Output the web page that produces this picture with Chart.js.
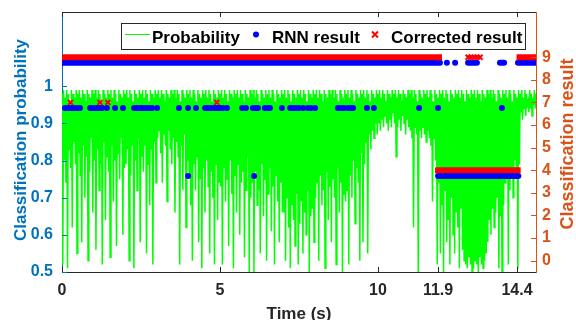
<!DOCTYPE html>
<html>
<head>
<meta charset="utf-8">
<script src="https://cdn.jsdelivr.net/npm/chart.js@4.4.1/dist/chart.umd.min.js"></script>
<style>
  html, body { margin: 0; padding: 0; background: #fff; overflow: hidden; }
</style>
</head>
<body>
<canvas id="resultChart" width="576" height="320"></canvas>
<script>
// tick labels
const xTicks = [0, 5, 10, 11.9, 14.4];
const probTicks = [0.5, 0.6, 0.7, 0.8, 0.9, 1];
const classTicks = [0, 1, 2, 3, 4, 5, 6, 7, 8, 9];

// probability, one value every 0.025 s starting at 0 s (one row = 1 s)
const probStep = 0.025;
const probValues = [
  0.98,0.52,0.99,0.80,0.97,0.74,0.99,0.51,0.98,0.83,0.96,0.78,0.99,0.62,0.98,0.85,0.97,0.79,0.99,0.55,0.98,0.82,0.99,0.76,0.97,0.58,0.99,0.84,0.98,0.70,0.96,0.81,0.99,0.53,0.98,0.77,0.97,0.86,0.99,0.66,
  0.98,0.80,0.99,0.56,0.97,0.83,0.99,0.72,0.98,0.79,0.96,0.52,0.99,0.85,0.98,0.64,0.97,0.81,0.99,0.77,0.98,0.54,0.99,0.84,0.97,0.69,0.99,0.80,0.98,0.57,0.96,0.82,0.99,0.75,0.98,0.86,0.97,0.60,0.99,0.78,
  0.98,0.79,0.99,0.83,0.97,0.53,0.99,0.76,0.98,0.84,0.96,0.51,0.99,0.80,0.98,0.72,0.97,0.86,0.99,0.58,0.98,0.81,0.99,0.77,0.97,0.84,0.99,0.55,0.98,0.79,0.96,0.68,0.99,0.83,0.98,0.52,0.97,0.85,0.99,0.74,
  0.98,0.86,0.99,0.88,0.97,0.82,0.99,0.74,0.98,0.87,0.96,0.84,0.99,0.69,0.98,0.88,0.97,0.83,0.99,0.79,0.98,0.86,0.99,0.66,0.97,0.85,0.99,0.81,0.98,0.52,0.96,0.84,0.99,0.72,0.98,0.87,0.97,0.62,0.99,0.80,
  0.98,0.76,0.99,0.68,0.97,0.53,0.99,0.79,0.98,0.72,0.96,0.81,0.99,0.58,0.98,0.75,0.97,0.51,0.99,0.78,0.98,0.66,0.99,0.80,0.97,0.73,0.99,0.55,0.98,0.77,0.96,0.70,0.99,0.52,0.98,0.79,0.97,0.64,0.99,0.74,
  0.98,0.73,0.99,0.52,0.97,0.78,0.99,0.69,0.98,0.75,0.96,0.57,0.99,0.80,0.98,0.71,0.97,0.51,0.99,0.76,0.98,0.66,0.99,0.79,0.97,0.60,0.99,0.74,0.98,0.77,0.96,0.54,0.99,0.72,0.98,0.81,0.97,0.50,0.99,0.70,
  0.98,0.74,0.99,0.50,0.97,0.77,0.99,0.68,0.98,0.72,0.96,0.55,0.99,0.79,0.98,0.65,0.97,0.75,0.99,0.53,0.98,0.71,0.99,0.78,0.97,0.61,0.99,0.73,0.98,0.52,0.96,0.76,0.99,0.69,0.98,0.58,0.97,0.74,0.99,0.66,
  0.98,0.66,0.99,0.53,0.97,0.70,0.99,0.62,0.98,0.51,0.96,0.68,0.99,0.64,0.98,0.57,0.97,0.71,0.99,0.52,0.98,0.63,0.99,0.69,0.97,0.55,0.99,0.66,0.98,0.60,0.96,0.72,0.99,0.50,0.98,0.65,0.97,0.67,0.99,0.58,
  0.98,0.70,0.99,0.74,0.97,0.53,0.99,0.76,0.98,0.68,0.96,0.72,0.99,0.51,0.98,0.77,0.97,0.64,0.99,0.73,0.98,0.58,0.99,0.75,0.97,0.70,0.99,0.52,0.98,0.78,0.96,0.66,0.99,0.74,0.98,0.50,0.97,0.71,0.99,0.69,
  0.98,0.72,0.99,0.52,0.97,0.76,0.99,0.70,0.98,0.80,0.96,0.63,0.99,0.78,0.98,0.74,0.97,0.53,0.99,0.82,0.98,0.58,0.99,0.79,0.97,0.85,0.99,0.55,0.98,0.87,0.96,0.83,0.99,0.88,0.98,0.86,0.97,0.90,0.99,0.87,
  0.98,0.90,0.99,0.88,0.97,0.91,0.99,0.89,0.98,0.92,0.96,0.90,0.99,0.88,0.98,0.91,0.97,0.89,0.99,0.93,0.98,0.90,0.99,0.81,0.97,0.89,0.99,0.91,0.98,0.88,0.96,0.92,0.99,0.90,0.98,0.87,0.97,0.91,0.99,0.89,
  0.98,0.88,0.99,0.86,0.97,0.62,0.99,0.89,0.98,0.87,0.96,0.50,0.99,0.88,0.98,0.86,0.97,0.89,0.99,0.87,0.98,0.85,0.99,0.88,0.97,0.86,0.99,0.84,0.98,0.69,0.96,0.86,0.99,0.80,0.98,0.52,0.97,0.74,0.99,0.55,
  0.98,0.68,0.99,0.50,0.97,0.72,0.99,0.58,0.98,0.64,0.96,0.52,0.99,0.70,0.98,0.60,0.97,0.55,0.99,0.66,0.98,0.62,0.99,0.51,0.97,0.67,0.99,0.56,0.98,0.53,0.96,0.52,0.99,0.51,0.98,0.54,0.97,0.52,0.99,0.50,
  0.98,0.51,0.99,0.53,0.97,0.52,0.99,0.50,0.98,0.54,0.96,0.52,0.99,0.51,0.98,0.53,0.97,0.55,0.99,0.58,0.98,0.64,0.99,0.60,0.97,0.67,0.99,0.62,0.98,0.66,0.96,0.70,0.99,0.51,0.98,0.65,0.97,0.50,0.99,0.68,
  0.98,0.74,0.99,0.77,0.97,0.52,0.99,0.72,0.98,0.78,0.96,0.70,0.99,0.80,0.98,0.76,0.97,0.51,0.99,0.79,0.98,0.93,0.99,0.91,0.97,0.94,0.99,0.92,0.98,0.95,0.96,0.93,0.99,0.94,0.98,0.92,0.97,0.95,0.99,0.94,
  0.98
];

// RNN result: runs of one class [from s, to s, class]
const rnnRuns = [[0, 11.96, 9], [12.85, 13.13, 9], [13.86, 13.99, 9], [14.43, 15, 9], [11.9, 14.44, 4]];
// RNN result: single outputs
const rnnTimes = [
  0.09,0.19,0.28,0.38,0.47,0.57, 0.89,0.98,1.08,1.17,1.27, 1.42,1.68,1.93,
  2.28,2.37,2.47,2.56,2.66,2.75,2.85,3.01, 3.70,3.99,4.24,
  4.53,4.62,4.72,4.81,4.91,5.00,5.09,5.22, 5.70,5.82,6.04,6.14,6.20,6.42,6.52,6.58,
  6.96,7.22,7.31,7.41,7.50,7.63,7.78,7.88,8.01, 8.73,8.83,8.92,9.05,9.15,9.21,
  9.65,9.87, 11.30,11.90,13.92,
  3.99,6.08, 12.18,12.44
];
const rnnClasses = [
  7,7,7,7,7,7, 7,7,7,7,7, 7,7,7,
  7,7,7,7,7,7,7,7, 7,7,7,
  7,7,7,7,7,7,7,7, 7,7,7,7,7,7,7,7,
  7,7,7,7,7,7,7,7,7, 7,7,7,7,7,7,
  7,7, 7,7,7,
  4,4, 9,9
];
// RNN markers sit a quarter class lower so both results stay visible
const rnnShift = -0.25;

// corrected result
const corrRuns = [[0, 11.93, 9], [14.48, 15, 9], [11.9, 14.42, 4]];
const corrTimes = [0.27, 1.20, 1.45, 4.90, 12.85, 12.94, 13.04, 13.13, 13.23];
const corrClasses = [7, 7, 7, 7, 9, 9, 9, 9, 9];

const FONT = "'Liberation Sans', Arial, sans-serif";
const BLUE_AX = '#0072BD';
const ORANGE_AX = '#D95319';

function runsToLine(runs, shift) {
  const pts = [];
  runs.forEach(r => {
    pts.push({ x: r[0], y: r[2] + shift }, { x: r[1], y: r[2] + shift }, { x: r[1], y: null });
  });
  return pts;
}

const probPoints = probValues.map((p, i) => ({ x: i * probStep, y: p }));
const rnnPoints = rnnTimes.map((t, i) => ({ x: t, y: rnnClasses[i] + rnnShift }));
const corrPoints = corrTimes.map((t, i) => ({ x: t, y: corrClasses[i] }));

// box top, inward ticks, axis titles and legend (MATLAB look)
const matlabFrame = {
  id: 'matlabFrame',
  afterDatasetsDraw(chart) {
    const { ctx, chartArea: a, scales } = chart;
    ctx.save();
    ctx.lineWidth = 1;
    ctx.strokeStyle = '#262626';
    ctx.beginPath();
    ctx.moveTo(a.left, a.top + 0.5);
    ctx.lineTo(a.right, a.top + 0.5);
    xTicks.forEach(v => {
      const px = Math.round(scales.x.getPixelForValue(v)) + 0.5;
      ctx.moveTo(px, a.bottom);
      ctx.lineTo(px, a.bottom - 5);
      ctx.moveTo(px, a.top);
      ctx.lineTo(px, a.top + 5);
    });
    ctx.stroke();

    ctx.strokeStyle = BLUE_AX;
    ctx.beginPath();
    probTicks.forEach(v => {
      const py = Math.round(scales.y.getPixelForValue(v)) + 0.5;
      ctx.moveTo(a.left, py);
      ctx.lineTo(a.left + 5, py);
    });
    ctx.stroke();

    ctx.strokeStyle = ORANGE_AX;
    ctx.beginPath();
    classTicks.forEach(v => {
      const py = Math.round(scales.y2.getPixelForValue(v)) + 0.5;
      ctx.moveTo(a.right, py);
      ctx.lineTo(a.right - 5, py);
    });
    ctx.stroke();
    ctx.restore();
  },
  afterDraw(chart) {
    const { ctx, chartArea: a } = chart;
    const ds = chart.data.datasets;
    const midY = (a.top + a.bottom) / 2;
    ctx.save();

    // axis titles
    ctx.font = 'bold 17px ' + FONT;
    ctx.textAlign = 'center';
    ctx.textBaseline = 'alphabetic';
    ctx.fillStyle = BLUE_AX;
    ctx.save();
    ctx.translate(25.5, midY - 2);
    ctx.rotate(-Math.PI / 2);
    ctx.fillText('Classification probability', 0, 0);
    ctx.restore();

    ctx.fillStyle = ORANGE_AX;
    ctx.font = 'bold 18px ' + FONT;
    ctx.save();
    ctx.translate(573, midY + 2);
    ctx.rotate(-Math.PI / 2);
    ctx.fillText('Classification result', 0, 0);
    ctx.restore();

    ctx.fillStyle = '#262626';
    ctx.font = 'bold 17px ' + FONT;
    ctx.fillText('Time (s)', (a.left + a.right) / 2, 319);

    // legend
    ctx.fillStyle = '#fff';
    ctx.fillRect(121, 23, 405, 26);
    ctx.strokeStyle = '#262626';
    ctx.lineWidth = 1;
    ctx.strokeRect(121.5, 23.5, 404, 26);

    ctx.strokeStyle = '#00FF00';
    ctx.beginPath();
    ctx.moveTo(125, 34.5);
    ctx.lineTo(150, 34.5);
    ctx.stroke();

    ctx.fillStyle = '#0000FF';
    ctx.beginPath();
    ctx.arc(256, 34.5, 3, 0, Math.PI * 2);
    ctx.fill();

    ctx.strokeStyle = '#FF0000';
    ctx.lineWidth = 2;
    ctx.beginPath();
    ctx.moveTo(372, 31.5);
    ctx.lineTo(378, 37.5);
    ctx.moveTo(378, 31.5);
    ctx.lineTo(372, 37.5);
    ctx.stroke();

    ctx.fillStyle = '#000';
    ctx.textAlign = 'left';
    ctx.fillText(ds[0].label, 152, 42.5);
    ctx.fillText(ds[1].label, 272, 42.5);
    ctx.fillText(ds[2].label, 391, 42.5);
    ctx.restore();
  }
};

const tickFont = { family: FONT, size: 16, weight: 'bold' };

const ctx = document.getElementById('resultChart').getContext('2d');
const resultChart = new Chart(ctx, {
  type: 'line',
  data: {
    datasets: [
      {
        label: 'Probability',
        data: probPoints,
        yAxisID: 'y',
        borderColor: '#00FF00',
        borderWidth: 1.5,
        pointRadius: 0,
        tension: 0,
        order: 4
      },
      {
        label: 'RNN result',
        type: 'scatter',
        data: rnnPoints,
        yAxisID: 'y2',
        backgroundColor: '#0000FF',
        borderWidth: 0,
        pointRadius: 3,
        order: 2
      },
      {
        label: 'Corrected result',
        type: 'scatter',
        data: corrPoints,
        yAxisID: 'y2',
        pointStyle: 'crossRot',
        borderColor: '#FF0000',
        borderWidth: 2,
        pointRadius: 3.5,
        order: 1
      },
      {
        label: 'RNN runs',
        data: runsToLine(rnnRuns, rnnShift),
        yAxisID: 'y2',
        borderColor: '#0000FF',
        borderWidth: 6,
        borderCapStyle: 'round',
        pointRadius: 0,
        spanGaps: false,
        clip: 0,
        order: 3
      },
      {
        label: 'Corrected runs',
        data: runsToLine(corrRuns, 0),
        yAxisID: 'y2',
        borderColor: '#FF0000',
        borderWidth: 6,
        borderCapStyle: 'square',
        pointRadius: 0,
        spanGaps: false,
        clip: 0,
        order: 1
      }
    ]
  },
  options: {
    responsive: false,
    animation: false,
    events: [],
    layout: { padding: { top: 12, left: 0, right: 0, bottom: 0 }, autoPadding: false },
    plugins: { legend: { display: false }, tooltip: { enabled: false } },
    scales: {
      x: {
        type: 'linear',
        position: 'bottom',
        min: 0,
        max: 15,
        afterBuildTicks: s => { s.ticks = xTicks.map(v => ({ value: v })); },
        afterFit: s => { s.height = 48; s.paddingLeft = 0; s.paddingRight = 0; },
        grid: { display: false, drawTicks: false },
        border: { color: '#262626', width: 1 },
        ticks: { color: '#262626', font: tickFont, padding: 9, autoSkip: false, maxRotation: 0, callback: v => String(v) }
      },
      y: {
        type: 'linear',
        position: 'left',
        min: 0.5,
        max: 1.2,
        afterBuildTicks: s => { s.ticks = probTicks.map(v => ({ value: v })); },
        afterFit: s => { s.width = 62; s.paddingTop = 0; s.paddingBottom = 0; },
        grid: { display: false, drawTicks: false },
        border: { color: BLUE_AX, width: 1 },
        ticks: { color: BLUE_AX, font: tickFont, padding: 9, autoSkip: false, callback: v => String(v) }
      },
      y2: {
        type: 'linear',
        position: 'right',
        min: -0.5,
        max: 11,
        afterBuildTicks: s => { s.ticks = classTicks.map(v => ({ value: v })); },
        afterFit: s => { s.width = 40; s.paddingTop = 0; s.paddingBottom = 0; },
        grid: { display: false, drawTicks: false },
        border: { color: ORANGE_AX, width: 1 },
        ticks: { color: ORANGE_AX, font: tickFont, padding: 6, autoSkip: false, callback: v => String(v) }
      }
    }
  },
  plugins: [matlabFrame]
});
</script>
</body>
</html>
